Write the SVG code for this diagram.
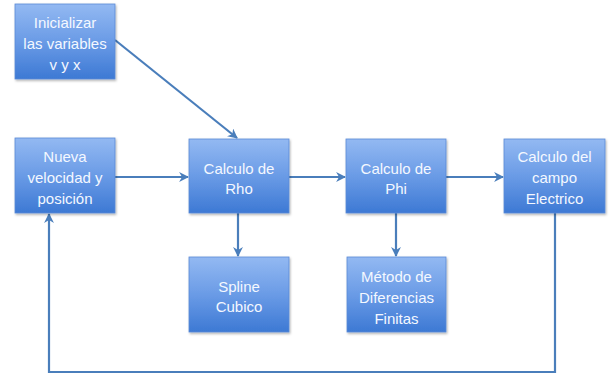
<svg xmlns="http://www.w3.org/2000/svg" width="612" height="376" viewBox="0 0 612 376">
<defs>
<linearGradient id="g" x1="0" y1="0" x2="0" y2="1">
<stop offset="0" stop-color="#93b9f2"/>
<stop offset="0.5" stop-color="#6a9be6"/>
<stop offset="1" stop-color="#3d79d4"/>
</linearGradient>
<filter id="sh" x="-10%" y="-10%" width="130%" height="130%">
<feDropShadow dx="1" dy="1.5" stdDeviation="1.2" flood-color="#000" flood-opacity="0.3"/>
</filter>
<marker id="ah" viewBox="0 0 10 10" refX="9" refY="5" markerWidth="4.5" markerHeight="4.5" orient="auto" markerUnits="strokeWidth">
<path d="M0,0 L10,5 L0,10 L3,5 Z" fill="#4a7ebb"/>
</marker>
<style>
.box{fill:url(#g);stroke:#5b8ad6;stroke-width:0.8;filter:url(#sh)}
.t{font-family:"Liberation Sans",Arial,sans-serif;font-size:15px;fill:#f4f8ff;text-anchor:middle}
.c{fill:none;stroke:#4a7ebb;stroke-width:2.2}
</style>
</defs>
<g id="connectors">
<line class="c" x1="115" y1="40" x2="237" y2="138" marker-end="url(#ah)"/>
<line class="c" x1="115" y1="177" x2="188" y2="177" marker-end="url(#ah)"/>
<line class="c" x1="289" y1="177" x2="345" y2="177" marker-end="url(#ah)"/>
<line class="c" x1="446" y1="177" x2="503" y2="177" marker-end="url(#ah)"/>
<line class="c" x1="238" y1="213" x2="238" y2="256" marker-end="url(#ah)"/>
<line class="c" x1="396" y1="213" x2="396" y2="256" marker-end="url(#ah)"/>
<polyline class="c" points="555,213 555,372 49,372 49,214" marker-end="url(#ah)"/>
</g>
<g id="inicializar">
<rect class="box" x="15" y="4" width="100" height="75"/>
<text class="t" x="65" y="28">Inicializar</text>
<text class="t" x="65" y="49">las variables</text>
<text class="t" x="65" y="70">v y x</text>
</g>
<g id="nueva">
<rect class="box" x="15" y="138" width="100" height="75"/>
<text class="t" x="65" y="162">Nueva</text>
<text class="t" x="65" y="183">velocidad y</text>
<text class="t" x="65" y="204">posición</text>
</g>
<g id="rho">
<rect class="box" x="189" y="139" width="100" height="74"/>
<text class="t" x="239" y="174">Calculo de</text>
<text class="t" x="239" y="194">Rho</text>
</g>
<g id="phi">
<rect class="box" x="346" y="139" width="100" height="74"/>
<text class="t" x="396" y="174">Calculo de</text>
<text class="t" x="396" y="194">Phi</text>
</g>
<g id="electrico">
<rect class="box" x="504" y="139" width="101" height="74"/>
<text class="t" x="554.5" y="162">Calculo del</text>
<text class="t" x="554.5" y="183">campo</text>
<text class="t" x="554.5" y="204">Electrico</text>
</g>
<g id="spline">
<rect class="box" x="189" y="257" width="100" height="75"/>
<text class="t" x="239" y="292">Spline</text>
<text class="t" x="239" y="312">Cubico</text>
</g>
<g id="metodo">
<rect class="box" x="347" y="257" width="99" height="75"/>
<text class="t" x="396.5" y="282">Método de</text>
<text class="t" x="396.5" y="303">Diferencias</text>
<text class="t" x="396.5" y="324">Finitas</text>
</g>
</svg>
